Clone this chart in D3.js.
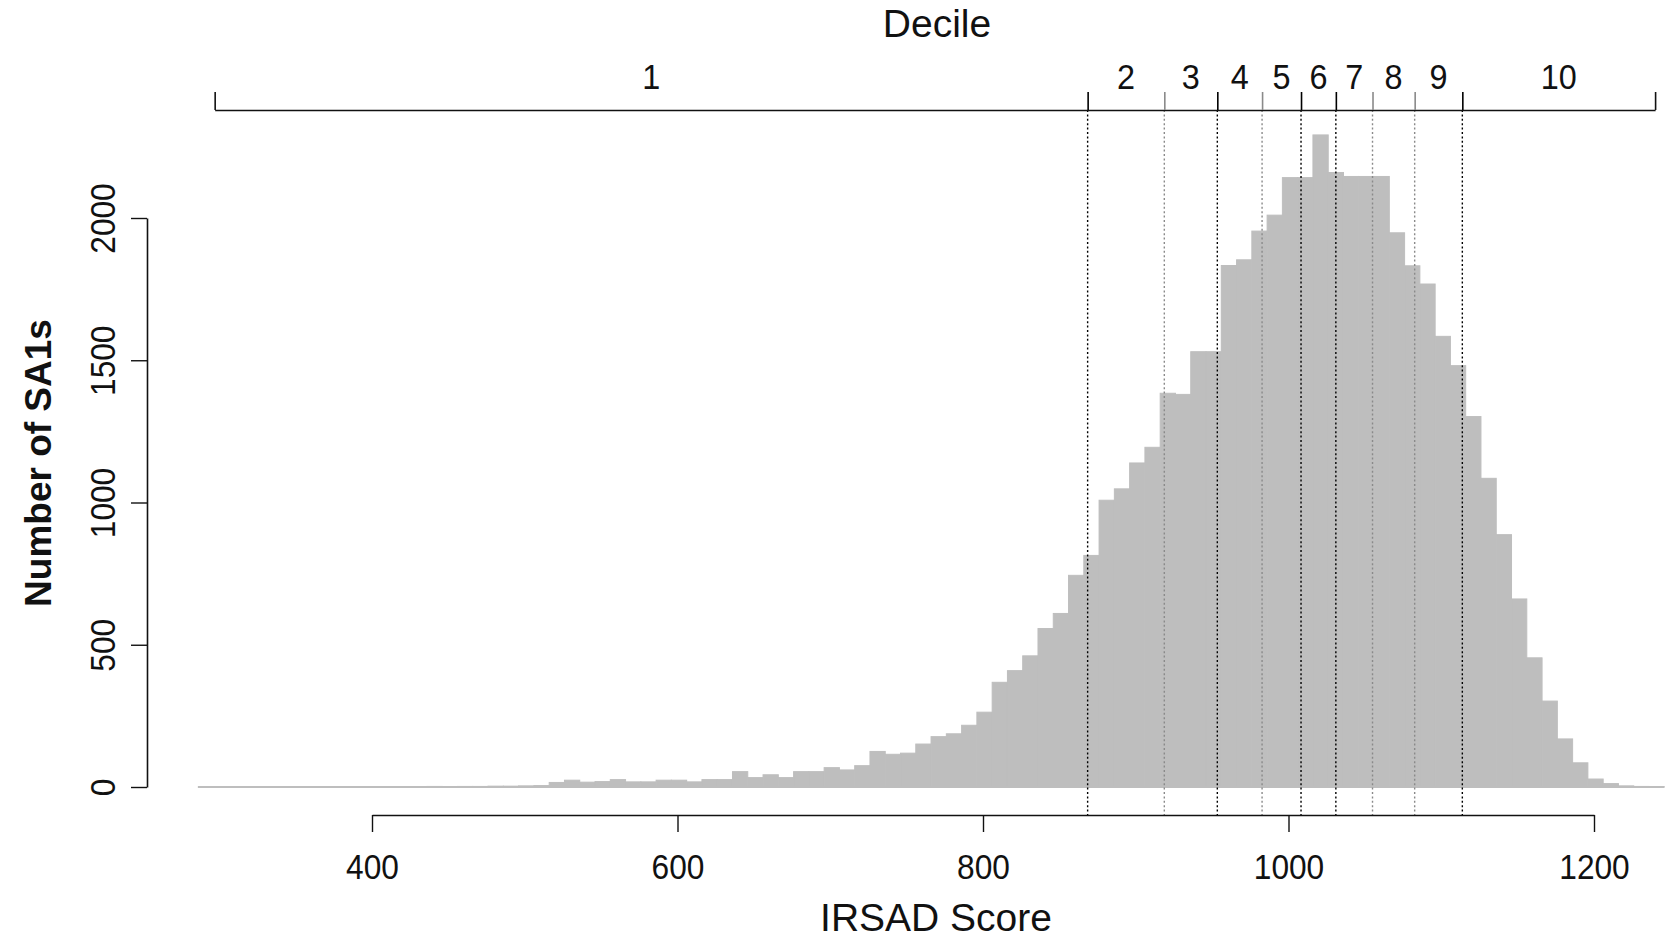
<!DOCTYPE html>
<html>
<head>
<meta charset="utf-8">
<script src="https://cdn.jsdelivr.net/npm/d3@7"></script>
<style>
  body { margin: 0; background: #fff; }
  text { font-family: "Liberation Sans", Arial, sans-serif; fill: #111; }
</style>
</head>
<body>
<div id="chart"></div>
<script>
// histogram of IRSAD scores, 10 point bins
const binStart = 286;
const binWidth = 10;
const counts = [
    0, 1, 0, 0, 0, 1, 0, 0, 1, 0,
    1, 1, 0, 1, 1, 2, 1, 2, 2, 3,
    3, 4, 5, 16, 24, 17, 19, 26, 18, 18,
    24, 24, 18, 26, 26, 54, 33, 43, 33, 54,
    54, 68, 60, 75, 125, 115, 119, 151, 177, 187,
    217, 263, 368, 409, 461, 557, 610, 744, 814, 1008,
    1048, 1139, 1194, 1384, 1380, 1530, 1530, 1833, 1853, 1954,
    2010, 2142, 2142, 2292, 2160, 2146, 2146, 2146, 1948, 1832,
    1768, 1584, 1481, 1302, 1085, 887, 661, 454, 302, 169,
    85, 28, 12, 4, 2, 1
];

// decile cut points (score) and range of the data
const scoreMin = 297;
const scoreMax = 1240;
const decileCuts = [868.5, 918.7, 953.4, 982.7, 1008.2, 1031, 1055, 1082.6, 1113.8];
const decileLabels = ['1', '2', '3', '4', '5', '6', '7', '8', '9', '10'];
const cutShade = ['#000', '#8a8a8a', '#000', '#8a8a8a', '#000', '#000', '#8a8a8a', '#8a8a8a', '#000'];

const xTicks = [400, 600, 800, 1000, 1200];
const yTicks = [0, 500, 1000, 1500, 2000];

const width = 1675;
const height = 942;

const x = d3.scaleLinear().domain([400, 1200]).range([372, 1594]);
const y = d3.scaleLinear().domain([0, 2000]).range([787, 218]);

const topY = 110;
const bottomY = 815;

let svg = d3.select('#chart')
    .append('svg')
    .attr('width', width)
    .attr('height', height);

svg.append('rect').attr('width', width).attr('height', height).attr('fill', '#fff');

// bars
let bins = counts.map((c, i) => ({ x0: binStart + i * binWidth, x1: binStart + (i + 1) * binWidth, n: c }));
let barLayer = svg.append('g');
barLayer.selectAll('rect')
    .data(bins)
    .enter()
    .append('rect')
    .attr('x', d => x(d.x0))
    .attr('y', d => y(d.n))
    .attr('width', d => x(d.x1) - x(d.x0))
    .attr('height', d => y(0) - y(d.n))
    .attr('fill', '#bebebe')
    .attr('stroke', '#bebebe')
    .attr('stroke-width', 1);

// bar borders along zero
barLayer.append('line')
    .attr('x1', x(bins[0].x0))
    .attr('x2', x(bins[bins.length - 1].x1))
    .attr('y1', y(0))
    .attr('y2', y(0))
    .attr('stroke', '#bebebe')
    .attr('stroke-width', 2);

// dotted decile lines
svg.append('g')
    .selectAll('line')
    .data(decileCuts)
    .enter()
    .append('line')
    .attr('x1', d => x(d))
    .attr('x2', d => x(d))
    .attr('y1', topY)
    .attr('y2', bottomY)
    .attr('stroke', (d, i) => cutShade[i])
    .attr('stroke-width', 1.4)
    .attr('stroke-dasharray', '2,2.4');

// bottom axis
let xAxis = svg.append('g')
    .attr('transform', `translate(0,${bottomY})`)
    .call(d3.axisBottom(x).tickValues(xTicks).tickSize(17).tickSizeOuter(0).tickFormat(d3.format('d')));
xAxis.select('.domain').attr('stroke', '#111').attr('stroke-width', 1.6);
xAxis.selectAll('.tick line').attr('stroke', '#111').attr('stroke-width', 1.4);
xAxis.selectAll('.tick text')
    .attr('y', 0).attr('dy', null)
    .attr('transform', 'translate(0,64) scale(0.88,1)')
    .attr('font-size', 36)
    .attr('fill', '#111');

// left axis
let yAxis = svg.append('g')
    .attr('transform', 'translate(147,0)')
    .call(d3.axisLeft(y).tickValues(yTicks).tickSize(16).tickSizeOuter(0).tickFormat(d3.format('d')));
yAxis.select('.domain').attr('stroke', '#111').attr('stroke-width', 1.6);
yAxis.selectAll('.tick line').attr('stroke', '#111').attr('stroke-width', 1.4);
yAxis.selectAll('.tick text')
    .attr('x', 0).attr('y', 0).attr('dy', null)
    .attr('text-anchor', 'middle')
    .attr('transform', 'translate(-32,0) rotate(-90) scale(0.88,1)')
    .attr('font-size', 36)
    .attr('fill', '#111');

// top decile axis
const bounds = [scoreMin].concat(decileCuts, [scoreMax]);
const xTop = x.copy().domain([scoreMin, scoreMax]).range([x(scoreMin), x(scoreMax)]);
let topAxis = svg.append('g')
    .attr('transform', `translate(0,${topY})`)
    .call(d3.axisTop(xTop).tickValues(bounds).tickSize(18).tickSizeOuter(0).tickFormat(''));
topAxis.select('.domain').attr('stroke', '#111').attr('stroke-width', 1.6);
topAxis.selectAll('.tick line')
    .attr('stroke', (d, i) => (i === 0 || i === bounds.length - 1) ? '#111' : cutShade[i - 1])
    .attr('stroke-width', 1.6);

svg.append('g')
    .selectAll('text')
    .data(decileLabels)
    .enter()
    .append('text')
    .attr('transform', (d, i) => `translate(${x((bounds[i] + bounds[i + 1]) / 2)},89) scale(0.9,1)`)
    .attr('text-anchor', 'middle')
    .attr('font-size', 36)
    .text(d => d);

// titles
svg.append('text')
    .attr('x', 937)
    .attr('y', 37)
    .attr('text-anchor', 'middle')
    .attr('font-size', 39)
    .text('Decile');

svg.append('text')
    .attr('x', 936)
    .attr('y', 931)
    .attr('text-anchor', 'middle')
    .attr('font-size', 39)
    .text('IRSAD Score');

svg.append('text')
    .attr('transform', 'translate(51,463) rotate(-90)')
    .attr('text-anchor', 'middle')
    .attr('font-size', 37)
    .attr('font-weight', 'bold')
    .text('Number of SA1s');
</script>
</body>
</html>
